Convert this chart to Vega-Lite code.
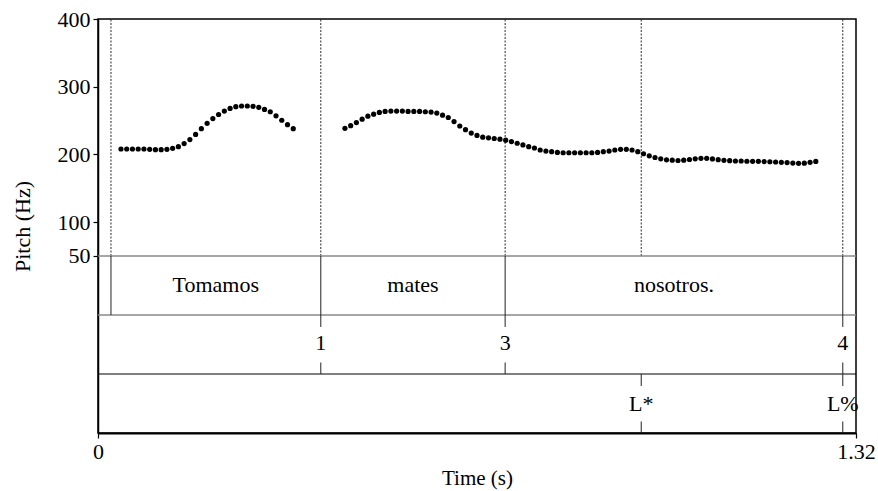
{
  "$schema": "https://vega.github.io/schema/vega-lite/v6.json",
  "width": 758,
  "height": 414,
  "autosize": {"type": "none"},
  "padding": {"left": 98, "top": 19, "right": 22, "bottom": 58},
  "config": {
    "view": {"stroke": "black", "strokeWidth": 1.5},
    "font": "Liberation Serif",
    "text": {"font": "Liberation Serif", "fontSize": 22, "color": "black"},
    "axis": {
      "labelFont": "Liberation Serif", "labelFontSize": 22, "labelColor": "black", "labelFlush": false,
      "titleFont": "Liberation Serif", "titleFontSize": 22, "titleFontWeight": "normal", "titleColor": "black",
      "tickColor": "black", "tickSize": 5, "tickWidth": 1.2,
      "domainColor": "black", "domainWidth": 1.5, "grid": false
    }
  },
  "datasets": {
    "pitch": [
      {"t": 0.04, "f0": 208}, {"t": 0.05, "f0": 208}, {"t": 0.06, "f0": 208}, {"t": 0.07, "f0": 208},
      {"t": 0.08, "f0": 208}, {"t": 0.09, "f0": 207.5}, {"t": 0.10, "f0": 207}, {"t": 0.11, "f0": 207},
      {"t": 0.12, "f0": 207.5}, {"t": 0.13, "f0": 209}, {"t": 0.14, "f0": 211.5}, {"t": 0.15, "f0": 216},
      {"t": 0.16, "f0": 222}, {"t": 0.17, "f0": 229.5}, {"t": 0.18, "f0": 238}, {"t": 0.19, "f0": 246},
      {"t": 0.20, "f0": 253}, {"t": 0.21, "f0": 259}, {"t": 0.22, "f0": 264}, {"t": 0.23, "f0": 268},
      {"t": 0.24, "f0": 270.5}, {"t": 0.25, "f0": 271.5}, {"t": 0.26, "f0": 271.5}, {"t": 0.27, "f0": 271},
      {"t": 0.28, "f0": 269.5}, {"t": 0.29, "f0": 266.5}, {"t": 0.30, "f0": 263}, {"t": 0.31, "f0": 257},
      {"t": 0.32, "f0": 250.5}, {"t": 0.33, "f0": 244}, {"t": 0.34, "f0": 238},
      {"t": 0.43, "f0": 238.5}, {"t": 0.44, "f0": 242.5}, {"t": 0.45, "f0": 247}, {"t": 0.46, "f0": 252},
      {"t": 0.47, "f0": 256.5}, {"t": 0.48, "f0": 259.5}, {"t": 0.49, "f0": 262}, {"t": 0.50, "f0": 263.5},
      {"t": 0.51, "f0": 264}, {"t": 0.52, "f0": 264}, {"t": 0.53, "f0": 264}, {"t": 0.54, "f0": 263.5},
      {"t": 0.55, "f0": 263.5}, {"t": 0.56, "f0": 263.5}, {"t": 0.57, "f0": 263}, {"t": 0.58, "f0": 262.5},
      {"t": 0.59, "f0": 261}, {"t": 0.60, "f0": 258}, {"t": 0.61, "f0": 254.5}, {"t": 0.62, "f0": 248.5},
      {"t": 0.63, "f0": 242}, {"t": 0.64, "f0": 236.5}, {"t": 0.65, "f0": 231.5}, {"t": 0.66, "f0": 228},
      {"t": 0.67, "f0": 225.5}, {"t": 0.68, "f0": 224.5}, {"t": 0.69, "f0": 223.5}, {"t": 0.70, "f0": 222.5},
      {"t": 0.71, "f0": 221}, {"t": 0.72, "f0": 219}, {"t": 0.73, "f0": 216.5}, {"t": 0.74, "f0": 214},
      {"t": 0.75, "f0": 211.5}, {"t": 0.76, "f0": 209.5}, {"t": 0.77, "f0": 206.5}, {"t": 0.78, "f0": 205},
      {"t": 0.79, "f0": 204}, {"t": 0.80, "f0": 203}, {"t": 0.81, "f0": 202.5}, {"t": 0.82, "f0": 202.5},
      {"t": 0.83, "f0": 202.5}, {"t": 0.84, "f0": 202.5}, {"t": 0.85, "f0": 202.5}, {"t": 0.86, "f0": 202.5},
      {"t": 0.87, "f0": 203}, {"t": 0.88, "f0": 204}, {"t": 0.89, "f0": 205}, {"t": 0.90, "f0": 206.5},
      {"t": 0.91, "f0": 207.5}, {"t": 0.92, "f0": 207.5}, {"t": 0.93, "f0": 206.5}, {"t": 0.94, "f0": 204},
      {"t": 0.95, "f0": 201}, {"t": 0.96, "f0": 198}, {"t": 0.97, "f0": 195.5}, {"t": 0.98, "f0": 193.5},
      {"t": 0.99, "f0": 192}, {"t": 1.00, "f0": 191.5}, {"t": 1.01, "f0": 191}, {"t": 1.02, "f0": 191.5},
      {"t": 1.03, "f0": 192.5}, {"t": 1.04, "f0": 193.5}, {"t": 1.05, "f0": 194.3}, {"t": 1.06, "f0": 194.2},
      {"t": 1.07, "f0": 193.3}, {"t": 1.08, "f0": 192.3}, {"t": 1.09, "f0": 191.3}, {"t": 1.10, "f0": 190.8},
      {"t": 1.11, "f0": 190.3}, {"t": 1.12, "f0": 190.3}, {"t": 1.13, "f0": 189.9}, {"t": 1.14, "f0": 189.8},
      {"t": 1.15, "f0": 189.8}, {"t": 1.16, "f0": 189.4}, {"t": 1.17, "f0": 189.2}, {"t": 1.18, "f0": 188.8},
      {"t": 1.19, "f0": 188.4}, {"t": 1.20, "f0": 187.9}, {"t": 1.21, "f0": 187.2}, {"t": 1.22, "f0": 186.8},
      {"t": 1.23, "f0": 187.1}, {"t": 1.24, "f0": 188.3}, {"t": 1.25, "f0": 189.6}
    ],
    "bounds": [{"t": 0.0226}, {"t": 0.388}, {"t": 0.709}, {"t": 0.946}, {"t": 1.297}],
    "wordBounds": [{"t": 0.0226}, {"t": 0.388}, {"t": 0.709}, {"t": 1.297}],
    "words": [
      {"word": "Tomamos", "start": 0.0226, "end": 0.388, "mid": 0.205},
      {"word": "mates", "start": 0.388, "end": 0.709, "mid": 0.5485},
      {"word": "nosotros.", "start": 0.709, "end": 1.297, "mid": 1.003}
    ],
    "breaks": [{"t": 0.388, "label": "1"}, {"t": 0.709, "label": "3"}, {"t": 1.297, "label": "4"}],
    "tones": [{"t": 0.946, "label": "L*"}, {"t": 1.297, "label": "L%"}]
  },
  "layer": [
    {
      "data": {"name": "pitch"},
      "mark": {"type": "circle", "size": 27, "color": "black", "opacity": 1},
      "encoding": {
        "x": {
          "field": "t", "type": "quantitative",
          "scale": {"domain": [0, 1.32], "nice": false, "zero": false},
          "axis": {"values": [0, 1.32], "format": "~g", "title": "Time (s)", "titleFontSize": 21, "labelPadding": 3, "titleY": 45, "titleBaseline": "middle", "domain": true, "domainWidth": 2}
        },
        "y": {
          "field": "f0", "type": "quantitative",
          "scale": {"domain": [-211.4, 400], "nice": false, "zero": false},
          "axis": {"values": [50, 100, 200, 300, 400], "format": "d", "title": "Pitch (Hz)", "labelPadding": 3, "titleX": -76, "titleY": 207, "titleAngle": -90, "titleAlign": "center", "titleBaseline": "middle", "domain": true}
        }
      }
    },
    {
      "data": {"name": "bounds"},
      "mark": {"type": "rule", "color": "#111", "strokeWidth": 0.9, "strokeDash": [2, 1.5]},
      "encoding": {"x": {"field": "t", "type": "quantitative"}, "y": {"datum": 50}, "y2": {"datum": 400}}
    },
    {
      "data": {"values": [{}]},
      "mark": {"type": "rule", "color": "#888", "strokeWidth": 1.6},
      "encoding": {"x": {"datum": 0}, "x2": {"datum": 1.32}, "y": {"datum": 50}}
    },
    {
      "data": {"values": [{}]},
      "mark": {"type": "rule", "color": "#888", "strokeWidth": 1.6},
      "encoding": {"x": {"datum": 0}, "x2": {"datum": 1.32}, "y": {"datum": -37.1}}
    },
    {
      "data": {"values": [{}]},
      "mark": {"type": "rule", "color": "black", "strokeWidth": 1.2},
      "encoding": {"x": {"datum": 0}, "x2": {"datum": 1.32}, "y": {"datum": -124.3}}
    },
    {
      "data": {"name": "wordBounds"},
      "mark": {"type": "rule", "color": "#222", "strokeWidth": 1},
      "encoding": {"x": {"field": "t", "type": "quantitative"}, "y": {"datum": 50}, "y2": {"datum": -37.1}}
    },
    {
      "data": {"name": "words"},
      "mark": {"type": "text", "align": "center", "baseline": "middle"},
      "encoding": {"x": {"field": "mid", "type": "quantitative"}, "y": {"datum": 7}, "text": {"field": "word"}}
    },
    {
      "data": {"name": "breaks"},
      "mark": {"type": "rule", "color": "#222", "strokeWidth": 1},
      "encoding": {"x": {"field": "t", "type": "quantitative"}, "y": {"datum": -37.1}, "y2": {"datum": -54.8}}
    },
    {
      "data": {"name": "breaks"},
      "mark": {"type": "rule", "color": "#222", "strokeWidth": 1},
      "encoding": {"x": {"field": "t", "type": "quantitative"}, "y": {"datum": -107.3}, "y2": {"datum": -124.3}}
    },
    {
      "data": {"name": "breaks"},
      "mark": {"type": "text", "align": "center", "baseline": "middle"},
      "encoding": {"x": {"field": "t", "type": "quantitative"}, "y": {"datum": -79}, "text": {"field": "label"}}
    },
    {
      "data": {"name": "tones"},
      "mark": {"type": "rule", "color": "#222", "strokeWidth": 1},
      "encoding": {"x": {"field": "t", "type": "quantitative"}, "y": {"datum": -124.3}, "y2": {"datum": -142}}
    },
    {
      "data": {"name": "tones"},
      "mark": {"type": "rule", "color": "#222", "strokeWidth": 1},
      "encoding": {"x": {"field": "t", "type": "quantitative"}, "y": {"datum": -194.4}, "y2": {"datum": -211.4}}
    },
    {
      "data": {"name": "tones"},
      "mark": {"type": "text", "align": "center", "baseline": "middle"},
      "encoding": {"x": {"field": "t", "type": "quantitative"}, "y": {"datum": -168.6}, "text": {"field": "label"}}
    }
  ]
}
